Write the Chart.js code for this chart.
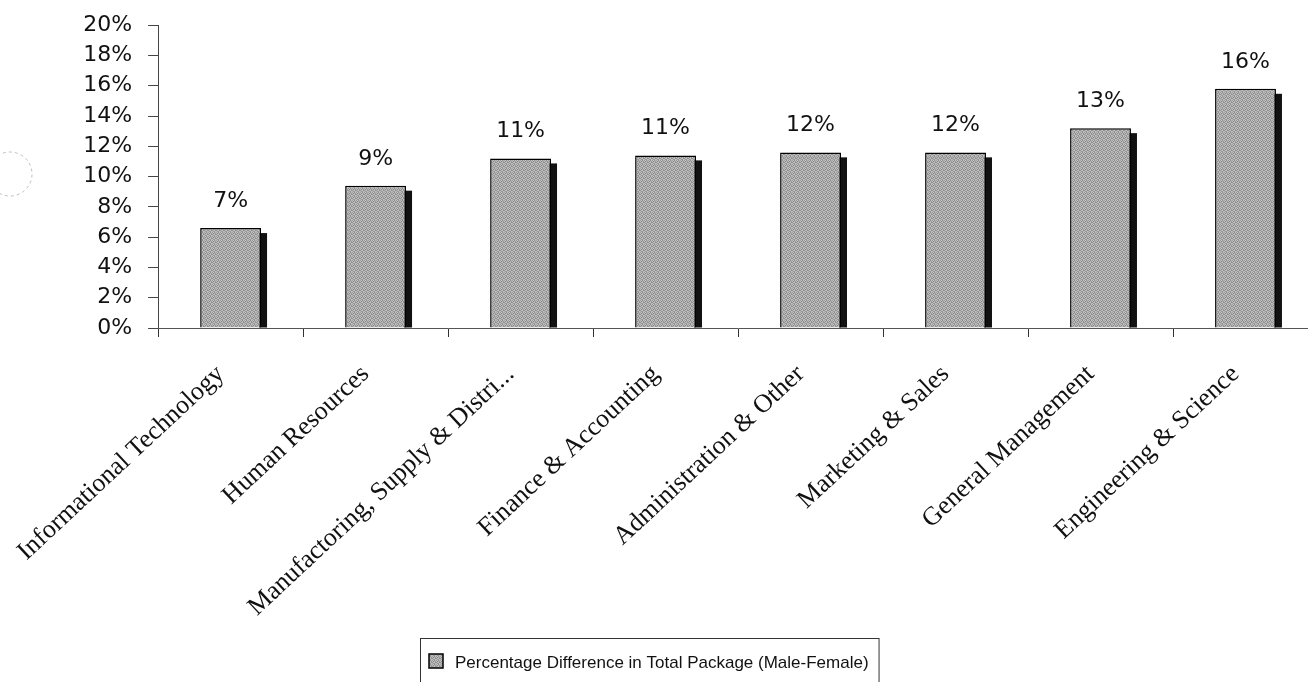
<!DOCTYPE html>
<html>
<head>
<meta charset="utf-8">
<script src="https://cdn.jsdelivr.net/npm/chart.js@4.4.1/dist/chart.umd.min.js"></script>
<style>
  html, body { margin: 0; padding: 0; background: #fff; overflow: hidden; }
  #wrap { width: 1330px; height: 682px; overflow: hidden; }
  #c { display: block; margin-top: -4px; }
</style>
</head>
<body>
<div id="wrap"><canvas id="c" width="1330" height="686"></canvas></div>
<script>
const categories = [
  'Informational Technology',
  'Human Resources',
  'Manufactoring, Supply & Distri...',
  'Finance & Accounting',
  'Administration & Other',
  'Marketing & Sales',
  'General Management',
  'Engineering & Science'
];
const gapValues = [6.6, 9.4, 11.2, 11.4, 11.6, 11.6, 13.2, 15.8];
const seriesName = 'Percentage Difference in Total Package (Male-Female)';
const yTicks = [0, 2, 4, 6, 8, 10, 12, 14, 16, 18, 20];

// grainy gray fill used for the bars and the legend swatch
function makeGrain() {
  const g = document.createElement('canvas');
  g.width = 4; g.height = 4;
  const gx = g.getContext('2d');
  const shades = [
    [160, 196, 142, 186],
    [192, 134, 178, 152],
    [148, 182, 200, 140],
    [184, 156, 146, 194]
  ];
  for (let r = 0; r < 4; r++) {
    for (let c = 0; c < 4; c++) {
      const s = shades[r][c];
      gx.fillStyle = `rgb(${s},${s},${s})`;
      gx.fillRect(c, r, 1, 1);
    }
  }
  return gx.createPattern(g, 'repeat');
}

const ctx = document.getElementById('c').getContext('2d');
const grain = makeGrain();

// dark drop shadow to the right of each bar
const barShadow = {
  id: 'barShadow',
  beforeDatasetsDraw(chart) {
    const c = chart.ctx;
    const meta = chart.getDatasetMeta(0);
    c.save();
    c.fillStyle = '#111';
    meta.data.forEach(bar => {
      const right = bar.x + bar.width / 2;
      c.fillRect(right - 2, bar.y + 5, 8, bar.base - bar.y - 5);
    });
    c.restore();
  }
};

// rounded value labels above the bars
const valueLabels = {
  id: 'valueLabels',
  afterDatasetsDraw(chart) {
    const c = chart.ctx;
    const meta = chart.getDatasetMeta(0);
    const vals = chart.data.datasets[0].data;
    c.save();
    c.font = '22px "DejaVu Sans"';
    c.fillStyle = '#111';
    c.textAlign = 'center';
    c.textBaseline = 'alphabetic';
    meta.data.forEach((bar, i) => {
      c.fillText(Math.round(vals[i]) + '%', bar.x, bar.y - 21);
    });
    c.restore();
  }
};

// boxed legend below the axis labels
const boxedLegend = {
  id: 'boxedLegend',
  afterDraw(chart) {
    const c = chart.ctx;
    const ds = chart.data.datasets[0];
    c.save();
    c.font = '17px "Liberation Sans"';
    const tw = c.measureText(ds.label).width;
    const bx = 420, by = 642, bh = 48;
    const bw = tw + 45;
    c.strokeStyle = '#333';
    c.lineWidth = 1;
    c.strokeRect(bx + 0.5, by + 0.5, bw, bh);
    c.fillStyle = grain;
    c.fillRect(bx + 9, by + 16, 14, 14);
    c.strokeStyle = '#000';
    c.lineWidth = 1.5;
    c.strokeRect(bx + 9, by + 16, 14, 14);
    c.fillStyle = '#111';
    c.textBaseline = 'alphabetic';
    c.fillText(ds.label, bx + 35, by + 30);
    // faint punch-hole outline at the left margin
    c.beginPath();
    c.strokeStyle = 'rgba(150,150,150,0.6)';
    c.lineWidth = 1;
    c.setLineDash([3, 3]);
    c.arc(10, 178, 22, -Math.PI / 2 - 0.6, Math.PI / 2 + 0.6);
    c.stroke();
    c.restore();
  }
};

new Chart(ctx, {
  type: 'bar',
  data: {
    labels: categories,
    datasets: [{
      label: seriesName,
      data: gapValues,
      backgroundColor: grain,
      borderColor: '#000',
      borderWidth: 1.5,
      borderSkipped: 'bottom',
      categoryPercentage: 1,
      barPercentage: 0.42
    }]
  },
  options: {
    responsive: false,
    animation: false,
    events: [],
    layout: { autoPadding: false, padding: { left: 0, top: 20, right: 12, bottom: 0 } },
    plugins: {
      legend: { display: false },
      tooltip: { enabled: false }
    },
    scales: {
      y: {
        min: yTicks[0],
        max: yTicks[yTicks.length - 1],
        afterBuildTicks(scale) { scale.ticks = yTicks.map(v => ({ value: v })); },
        afterFit(scale) { scale.width = 157; },
        border: { display: true, color: '#444', width: 1 },
        grid: { drawOnChartArea: false, drawTicks: true, tickLength: 10, color: '#444' },
        ticks: {
          padding: 16,
          color: '#111',
          font: { family: 'DejaVu Sans', size: 22 },
          callback: v => v + '%'
        }
      },
      x: {
        afterFit(scale) { scale.height = 354; },
        border: { display: true, color: '#555', width: 1 },
        grid: { drawOnChartArea: false, drawTicks: true, tickLength: 9, color: '#333', offset: true },
        ticks: {
          autoSkip: false,
          minRotation: 43,
          maxRotation: 43,
          padding: 22,
          labelOffset: -10,
          color: '#111',
          font: { family: 'Liberation Serif', size: 26 }
        }
      }
    }
  },
  plugins: [barShadow, valueLabels, boxedLegend]
});
</script>
</body>
</html>
